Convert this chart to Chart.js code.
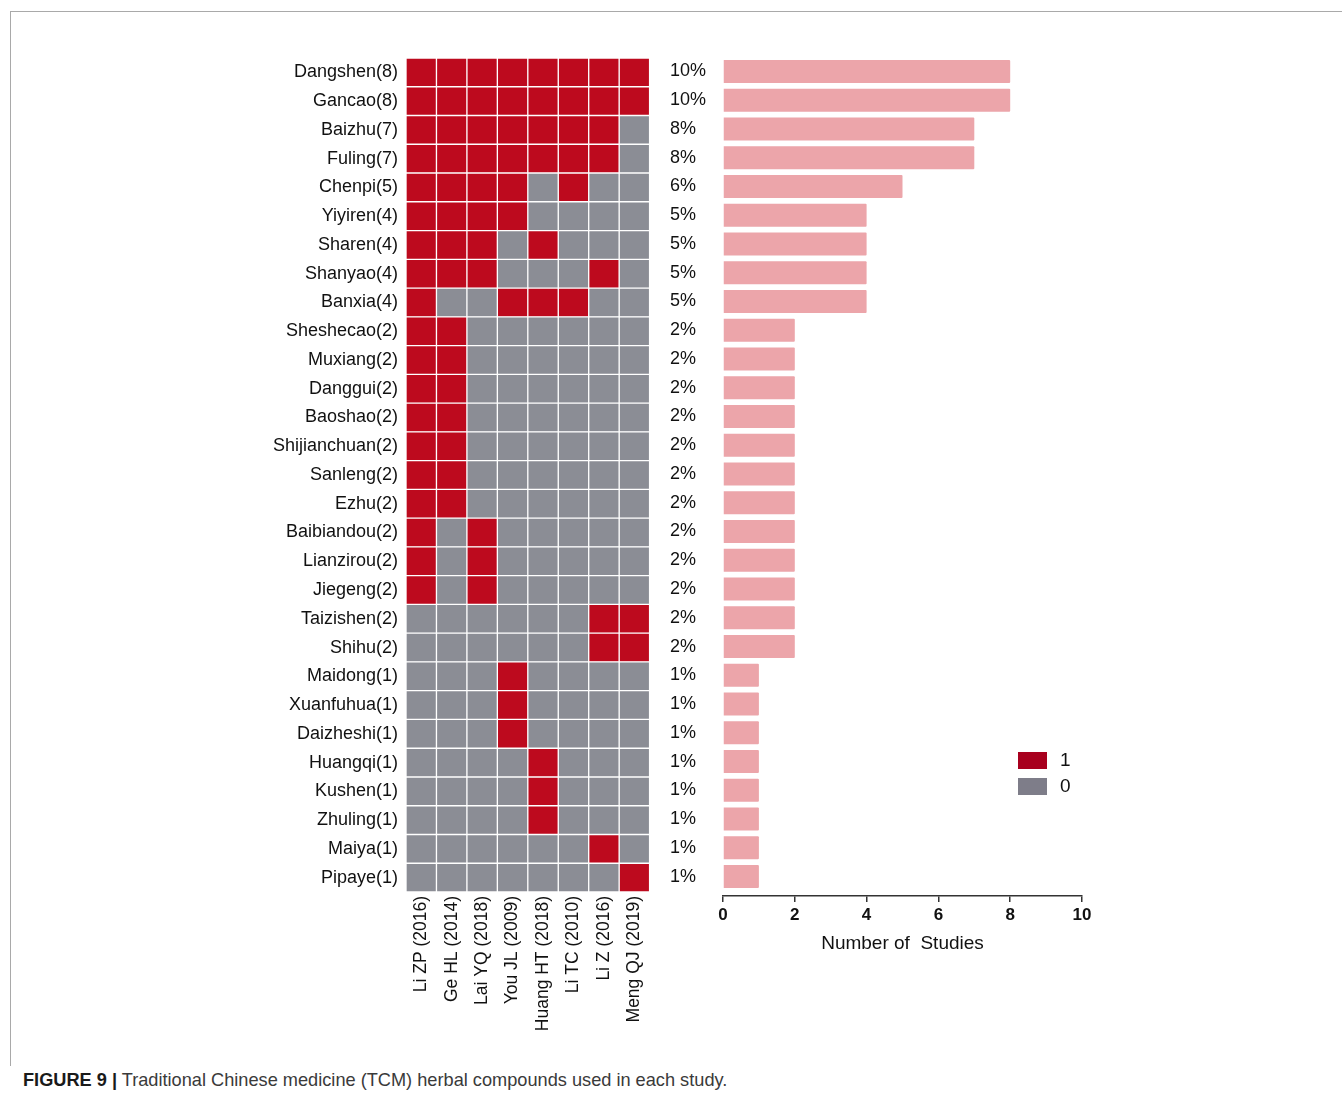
<!DOCTYPE html>
<html>
<head>
<meta charset="utf-8">
<script src="https://cdn.jsdelivr.net/npm/chart.js@4.4.1/dist/chart.umd.min.js"></script>
<style>
  html, body { margin: 0; padding: 0; background: #fff; }
  body { width: 1342px; height: 1095px; position: relative; overflow: hidden; font-family: "Liberation Sans", Arial, sans-serif; }
  .frame { position: absolute; left: 10px; top: 11px; width: 1332px; height: 1054px; border-top: 1px solid #a9a9a9; border-left: 1px solid #a9a9a9; }
  #heat { position: absolute; left: 0; top: 0; }
  #bars { position: absolute; left: 660px; top: 0; }
  .legend { position: absolute; left: 1018px; top: 747px; font-size: 19px; color: #111; }
  .legend div { display: flex; align-items: center; height: 26px; }
  .legend span.sw { display: inline-block; width: 29px; height: 17px; margin-right: 13px; }
  .caption { position: absolute; left: 23px; top: 1070px; font-size: 18.2px; color: #3a3a3a; white-space: nowrap; }
  .caption b { color: #1a1a1a; }
</style>
</head>
<body>
<div class="frame"></div>
<canvas id="heat" width="660" height="1060"></canvas>
<canvas id="bars" width="440" height="1060"></canvas>
<div class="legend">
  <div><span class="sw" style="background:#a8001e"></span>1</div>
  <div><span class="sw" style="background:#7e7d89"></span>0</div>
</div>
<div class="caption"><b>FIGURE 9 |</b> Traditional Chinese medicine (TCM) herbal compounds used in each study.</div>

<script>
// Herbs, ordered by how many studies used them
const herbs = ['Dangshen', 'Gancao', 'Baizhu', 'Fuling', 'Chenpi', 'Yiyiren', 'Sharen', 'Shanyao', 'Banxia',
  'Sheshecao', 'Muxiang', 'Danggui', 'Baoshao', 'Shijianchuan', 'Sanleng', 'Ezhu', 'Baibiandou', 'Lianzirou',
  'Jiegeng', 'Taizishen', 'Shihu', 'Maidong', 'Xuanfuhua', 'Daizheshi', 'Huangqi', 'Kushen', 'Zhuling',
  'Maiya', 'Pipaye'];

// Number of studies using each herb
const counts = [8, 8, 7, 7, 5, 4, 4, 4, 4, 2, 2, 2, 2, 2, 2, 2, 2, 2, 2, 2, 2, 1, 1, 1, 1, 1, 1, 1, 1];

// Share of all herb uses, as printed beside each bar
const pctLabels = ['10%', '10%', '8%', '8%', '6%', '5%', '5%', '5%', '5%', '2%', '2%', '2%', '2%', '2%', '2%',
  '2%', '2%', '2%', '2%', '2%', '2%', '1%', '1%', '1%', '1%', '1%', '1%', '1%', '1%'];

// Studies (heatmap columns)
const studies = ['Li ZP (2016)', 'Ge HL (2014)', 'Lai YQ (2018)', 'You JL (2009)', 'Huang HT (2018)',
  'Li TC (2010)', 'Li Z (2016)', 'Meng QJ (2019)'];

// 1 = herb used in the study, 0 = not used (rows follow herbs, columns follow studies)
const usage = [
  [1, 1, 1, 1, 1, 1, 1, 1], // Dangshen
  [1, 1, 1, 1, 1, 1, 1, 1], // Gancao
  [1, 1, 1, 1, 1, 1, 1, 0], // Baizhu
  [1, 1, 1, 1, 1, 1, 1, 0], // Fuling
  [1, 1, 1, 1, 0, 1, 0, 0], // Chenpi
  [1, 1, 1, 1, 0, 0, 0, 0], // Yiyiren
  [1, 1, 1, 0, 1, 0, 0, 0], // Sharen
  [1, 1, 1, 0, 0, 0, 1, 0], // Shanyao
  [1, 0, 0, 1, 1, 1, 0, 0], // Banxia
  [1, 1, 0, 0, 0, 0, 0, 0], // Sheshecao
  [1, 1, 0, 0, 0, 0, 0, 0], // Muxiang
  [1, 1, 0, 0, 0, 0, 0, 0], // Danggui
  [1, 1, 0, 0, 0, 0, 0, 0], // Baoshao
  [1, 1, 0, 0, 0, 0, 0, 0], // Shijianchuan
  [1, 1, 0, 0, 0, 0, 0, 0], // Sanleng
  [1, 1, 0, 0, 0, 0, 0, 0], // Ezhu
  [1, 0, 1, 0, 0, 0, 0, 0], // Baibiandou
  [1, 0, 1, 0, 0, 0, 0, 0], // Lianzirou
  [1, 0, 1, 0, 0, 0, 0, 0], // Jiegeng
  [0, 0, 0, 0, 0, 0, 1, 1], // Taizishen
  [0, 0, 0, 0, 0, 0, 1, 1], // Shihu
  [0, 0, 0, 1, 0, 0, 0, 0], // Maidong
  [0, 0, 0, 1, 0, 0, 0, 0], // Xuanfuhua
  [0, 0, 0, 1, 0, 0, 0, 0], // Daizheshi
  [0, 0, 0, 0, 1, 0, 0, 0], // Huangqi
  [0, 0, 0, 0, 1, 0, 0, 0], // Kushen
  [0, 0, 0, 0, 1, 0, 0, 0], // Zhuling
  [0, 0, 0, 0, 0, 0, 1, 0], // Maiya
  [0, 0, 0, 0, 0, 0, 0, 1]  // Pipaye
];

const xTicks = [0, 2, 4, 6, 8, 10];

const USED = '#bd0a1e';
const UNUSED = '#8b8d95';
const BAR = '#eca5aa';
const FONT = "'Liberation Sans', Arial, sans-serif";

Chart.defaults.font.family = FONT;
Chart.defaults.color = '#111';
Chart.defaults.animation = false;

const rowLabels = herbs.map((h, i) => `${h}(${counts[i]})`);

// Heatmap: one stacked segment of width 1 per study, coloured by usage
new Chart(document.getElementById('heat'), {
  type: 'bar',
  data: {
    labels: rowLabels,
    datasets: studies.map((s, j) => ({
      label: s,
      data: usage.map(() => 1),
      backgroundColor: usage.map(row => row[j] ? USED : UNUSED),
      borderColor: '#ffffff',
      borderWidth: 1,
      borderSkipped: false,
      barPercentage: 1,
      categoryPercentage: 1
    }))
  },
  options: {
    indexAxis: 'y',
    responsive: false,
    layout: { padding: { top: 58, left: 0, right: 10, bottom: 0 } },
    plugins: { legend: { display: false }, tooltip: { enabled: false } },
    scales: {
      y: {
        stacked: true,
        grid: { display: false, drawTicks: false },
        border: { display: false },
        ticks: { font: { size: 18 }, color: '#111', padding: 8 },
        afterFit: s => { s.width = 406; }
      },
      x: {
        stacked: true,
        min: 0,
        max: studies.length,
        grid: { display: false, drawTicks: false },
        border: { display: false },
        afterBuildTicks: s => { s.ticks = studies.map((_, j) => ({ value: j + 0.5 })); },
        ticks: {
          autoSkip: false,
          minRotation: 90,
          maxRotation: 90,
          padding: 4,
          font: { size: 17.5 },
          color: '#111',
          callback: (v, i) => studies[i]
        },
        afterFit: s => { s.height = 1060 - 58 - 834; }
      }
    }
  }
});

// The count axis sits a few pixels below the last bar row
const dropAxis = {
  id: 'dropAxis',
  afterLayout(chart) {
    const x = chart.scales.x;
    x.top += 5;
    x.bottom += 5;
  }
};

// Bar chart: number of studies per herb
new Chart(document.getElementById('bars'), {
  type: 'bar',
  data: {
    labels: herbs,
    datasets: [{
      data: counts,
      backgroundColor: BAR,
      borderWidth: 0,
      borderRadius: 1,
      barPercentage: 0.8,
      categoryPercentage: 1
    }]
  },
  options: {
    indexAxis: 'y',
    responsive: false,
    layout: { padding: { top: 57, left: 10, right: 18, bottom: 110 } },
    plugins: { legend: { display: false }, tooltip: { enabled: false } },
    scales: {
      y: {
        grid: { display: false, drawTicks: false },
        border: { display: false },
        ticks: {
          crossAlign: 'far',
          font: { size: 18 },
          color: '#111',
          callback: (v, i) => pctLabels[i]
        },
        afterFit: s => { s.width = 53; }
      },
      x: {
        min: 0,
        max: 10,
        afterBuildTicks: s => { s.ticks = xTicks.map(v => ({ value: v })); },
        grid: { drawOnChartArea: false, drawTicks: true, tickLength: 6, color: '#333', lineWidth: 1.5 },
        border: { display: true, color: '#333', width: 1.5 },
        ticks: { font: { size: 17, weight: 'bold' }, color: '#111', padding: 3, maxRotation: 0 },
        title: { display: true, text: 'Number of  Studies', font: { size: 19 }, color: '#111', padding: { top: 6, bottom: 0 } },
        afterFit: s => { s.height = 59; }
      }
    }
  },
  plugins: [dropAxis]
});
</script>
</body>
</html>
